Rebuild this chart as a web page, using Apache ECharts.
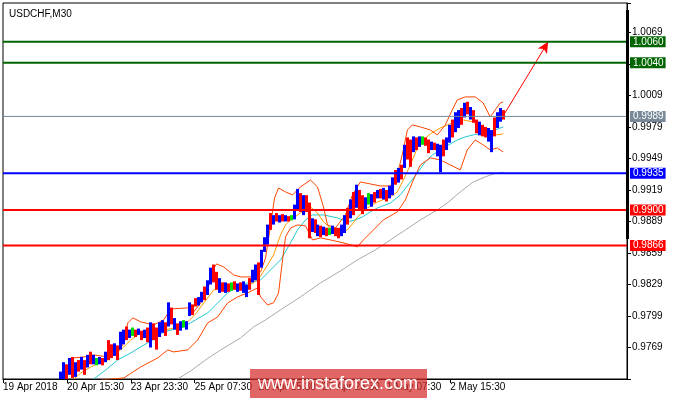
<!DOCTYPE html>
<html><head><meta charset="utf-8">
<script src="https://cdn.jsdelivr.net/npm/echarts@6/dist/echarts.min.js"></script>
<style>html,body{margin:0;padding:0;background:#fff}#c{width:675px;height:400px}</style>
</head><body><div id="c"></div>
<script>
// ---- DATA ----
const symbolTitle = 'USDCHF,M30';
const watermarkText = 'www.instaforex.com';
const timeLabels = ['19 Apr 2018','20 Apr 15:30','23 Apr 23:30','25 Apr 07:30','26 Apr 15:30','27 Apr 23:30','1 May 07:30','2 May 15:30'];
const labelEvery = 64;          // M30 bars between time labels
const slotCount = 626;          // M30 bar slots across the chart
const firstBarSlot = 57;        // slot of first drawn (aggregated) bar
const barSpan = 3;              // M30 bars merged in each drawn bar

const barOpen = [.9736,.9737,.9753,.9743,.9760,.9741,.9757,.9748,.9757,.9750,
.9765,.9753,.9755,.9753,.9759,.9755,.9776,.9772,.9761,.9771,
.9767,.9772,.9789,.9778,.9784,.9786,.9781,.9785,.9778,.9788,
.9769,.9792,.9788,.9779,.9783,.9793,.9789,.9807,.9786,.9792,
.9785,.9791,.9786,.9799,.9810,.9816,.9809,.9812,.9827,.9819,
.9829,.9848,.9841,.9821,.9831,.9821,.9830,.9827,.9832,.9822,
.9831,.9821,.9817,.9835,.9831,.9833,.9850,.9845,.9860,.9867,
.9897,.9886,.9897,.9888,.9896,.9889,.9894,.9892,.9891,.9900,
.9916,.9895,.9914,.9907,.9879,.9891,.9875,.9885,.9876,.9883,
.9880,.9877,.9883,.9883,.9875,.9878,.9902,.9892,.9917,.9902,
.9919,.9914,.9900,.9910,.9903,.9917,.9911,.9920,.9910,.9919,
.9911,.9914,.9938,.9926,.9943,.9940,.9969,.9967,.9955,.9969,
.9960,.9966,.9969,.9967,.9957,.9964,.9951,.9936,.9967,.9957,
.9964,.9986,.9974,.9978,.9997,.9988,1.0003,.9986,.9995,.9986,
.9971,.9981,.9979,.9965,.9955,.9988,.9978,.9984,.9995];
const barClose = [.9746,.9755,.9737,.9759,.9740,.9755,.9746,.9760,.9743,.9762,
.9753,.9762,.9755,.9760,.9752,.9765,.9757,.9759,.9773,.9757,
.9784,.9786,.9776,.9786,.9784,.9779,.9787,.9776,.9786,.9774,
.9793,.9776,.9767,.9793,.9795,.9780,.9812,.9791,.9797,.9781,
.9794,.9791,.9794,.9812,.9800,.9808,.9817,.9822,.9814,.9833,
.9845,.9831,.9824,.9835,.9822,.9831,.9822,.9827,.9824,.9830,
.9823,.9832,.9829,.9824,.9843,.9848,.9819,.9862,.9874,.9886,
.9881,.9895,.9889,.9895,.9889,.9895,.9889,.9892,.9905,.9920,
.9898,.9914,.9898,.9873,.9892,.9878,.9886,.9874,.9884,.9875,
.9880,.9885,.9875,.9873,.9886,.9895,.9886,.9910,.9895,.9924,
.9900,.9896,.9912,.9910,.9915,.9907,.9919,.9911,.9921,.9908,
.9923,.9931,.9924,.9940,.9929,.9962,.9948,.9941,.9970,.9957,
.9970,.9966,.9961,.9954,.9965,.9957,.9963,.9962,.9951,.9969,
.9981,.9969,.9993,.9995,.9981,1.0002,.9991,.9998,.9983,.9973,
.9984,.9970,.9969,.9978,.9976,.9970,.9993,.9997,.9986];
const barLow = [.9736,.9737,.9737,.9743,.9740,.9741,.9746,.9748,.9743,.9750,
.9753,.9753,.9752,.9753,.9752,.9755,.9757,.9759,.9761,.9757,
.9767,.9772,.9776,.9778,.9780,.9779,.9781,.9776,.9778,.9774,
.9769,.9776,.9767,.9779,.9783,.9780,.9789,.9791,.9786,.9781,
.9785,.9788,.9786,.9799,.9800,.9808,.9809,.9812,.9814,.9819,
.9829,.9831,.9824,.9821,.9822,.9821,.9822,.9823,.9824,.9822,
.9823,.9821,.9817,.9824,.9831,.9833,.9819,.9845,.9860,.9867,
.9881,.9886,.9889,.9888,.9889,.9889,.9889,.9890,.9891,.9900,
.9898,.9895,.9898,.9873,.9879,.9878,.9875,.9874,.9876,.9875,
.9876,.9877,.9875,.9873,.9875,.9878,.9886,.9892,.9895,.9902,
.9900,.9896,.9900,.9905,.9903,.9907,.9911,.9911,.9910,.9908,
.9911,.9914,.9924,.9926,.9929,.9940,.9948,.9941,.9955,.9957,
.9960,.9962,.9961,.9954,.9957,.9957,.9951,.9936,.9951,.9957,
.9964,.9969,.9974,.9978,.9981,.9988,.9991,.9986,.9983,.9973,
.9971,.9970,.9969,.9965,.9955,.9970,.9978,.9984,.9986];
const barHigh = [.9746,.9755,.9753,.9759,.9760,.9755,.9757,.9760,.9757,.9762,
.9765,.9762,.9759,.9760,.9759,.9765,.9776,.9772,.9773,.9771,
.9784,.9786,.9789,.9786,.9788,.9786,.9787,.9785,.9786,.9788,
.9793,.9792,.9788,.9793,.9795,.9793,.9812,.9807,.9797,.9792,
.9794,.9795,.9794,.9812,.9810,.9816,.9817,.9822,.9827,.9833,
.9845,.9848,.9841,.9835,.9831,.9831,.9830,.9831,.9832,.9830,
.9831,.9832,.9829,.9835,.9843,.9848,.9850,.9862,.9874,.9886,
.9897,.9895,.9897,.9895,.9896,.9895,.9894,.9895,.9905,.9920,
.9916,.9914,.9914,.9907,.9892,.9891,.9886,.9885,.9884,.9883,
.9883,.9885,.9883,.9883,.9886,.9895,.9902,.9910,.9917,.9924,
.9919,.9914,.9912,.9916,.9915,.9917,.9919,.9920,.9921,.9919,
.9923,.9931,.9938,.9940,.9943,.9962,.9969,.9967,.9970,.9969,
.9970,.9970,.9969,.9967,.9965,.9964,.9963,.9962,.9967,.9969,
.9981,.9986,.9993,.9995,.9997,1.0002,1.0003,.9998,.9995,.9986,
.9984,.9981,.9979,.9978,.9976,.9988,.9993,.9997,.9995];

// indicator lines: [slot, price]
const maSlow = [[175,.97391],[188,.97467],[203,.97572],[218,.97667],[238,.97781],[251,.97886],[263,.97953],[278,.98048],[298,.98172],[318,.98305],[338,.98419],[355,.98524],[373,.98619],[388,.98714],[403,.98809],[418,.98905],[435,.99000],[445,.99066],[458,.99171],[471,.99266],[483,.99314],[491,.99342],[501,.99361]];
const maMid = [[91,.97391],[103,.97477],[115,.97572],[128,.97638],[138,.97696],[150,.97762],[161,.97838],[173,.97867],[181,.97886],[193,.97953],[205,.98019],[215,.98114],[225,.98210],[235,.98267],[245,.98305],[258,.98333],[268,.98429],[278,.98524],[288,.98686],[295,.98809],[303,.98905],[310,.98952],[321,.98952],[335,.98924],[345,.98886],[353,.98905],[360,.98933],[368,.98981],[375,.99019],[388,.99066],[398,.99143],[408,.99266],[415,.99352],[423,.99457],[430,.99523],[438,.99571],[448,.99628],[455,.99666],[463,.99695],[471,.99714],[485,.99742],[493,.99761],[501,.99790]];
const maFast = [[71,.97391],[78,.97448],[88,.97505],[98,.97553],[105,.97572],[113,.97629],[121,.97696],[128,.97762],[138,.97829],[148,.97838],[158,.97848],[171,.97876],[185,.97934],[193,.98010],[198,.98076],[205,.98162],[211,.98238],[218,.98257],[225,.98267],[241,.98267],[251,.98305],[258,.98371],[265,.98476],[271,.98571],[278,.98762],[283,.98857],[288,.98905],[298,.98971],[308,.99028],[315,.98971],[321,.98886],[328,.98828],[335,.98790],[345,.98809],[350,.98866],[355,.98933],[365,.99019],[375,.99076],[388,.99124],[395,.99171],[401,.99285],[408,.99428],[415,.99590],[421,.99666],[428,.99723],[438,.99780],[445,.99809],[453,.99838],[461,.99857],[471,.99838],[478,.99790],[485,.99752],[493,.99714],[501,.99723]];
const bandUpper = [[62,.97458],[68,.97553],[71,.97591],[81,.97600],[91,.97619],[105,.97600],[115,.97648],[120,.97715],[125,.97924],[130,.97972],[138,.97934],[151,.97905],[161,.97953],[168,.98057],[185,.98067],[191,.98029],[198,.98114],[205,.98238],[210,.98429],[214,.98486],[221,.98457],[231,.98381],[238,.98362],[251,.98362],[258,.98409],[263,.98543],[268,.98857],[272,.99114],[276,.99209],[283,.99171],[290,.99143],[298,.99219],[308,.99285],[315,.99219],[321,.99028],[325,.98857],[333,.98828],[343,.98952],[350,.99143],[358,.99266],[368,.99247],[378,.99228],[388,.99228],[395,.99333],[401,.99571],[405,.99761],[410,.99809],[418,.99790],[428,.99761],[435,.99714],[443,.99809],[450,.99952],[455,1.00047],[463,1.00076],[473,1.00076],[481,1.00018],[488,.99885],[493,.99952],[498,1.00018],[501,1.00028]];
const bandLower = [[98,.97381],[121,.97400],[138,.97505],[155,.97591],[165,.97667],[171,.97648],[185,.97667],[195,.97762],[205,.97924],[215,.97981],[225,.98114],[235,.98172],[245,.98210],[255,.98257],[258,.98172],[265,.98095],[271,.98115],[276,.98210],[280,.98524],[283,.98743],[288,.98828],[295,.98857],[303,.98848],[310,.98714],[318,.98733],[328,.98714],[341,.98686],[348,.98667],[355,.98648],[361,.98714],[371,.98809],[381,.98905],[395,.98981],[403,.99095],[411,.99285],[418,.99428],[428,.99495],[438,.99476],[448,.99428],[458,.99381],[465,.99571],[473,.99666],[481,.99619],[488,.99571],[495,.99590],[501,.99552]];

const levelValues = [1.0060, 1.0040, 0.9989, 0.9935, 0.9900, 0.9866];
const arrowFrom = [500, 0.9988];
const arrowTo = [546, 1.0060];

const yMin = 0.9739, yMax = 1.0097, yStep = 0.0030;

// ---- STYLE ----
const levelColors = ['#006400','#006400','#778899','#0000FF','#FF0000','#FF0000'];
const levelWidths = [2,2,1,2,2,2];
const FONT = 'Liberation Sans';

const chart = echarts.init(document.getElementById('c'));
const slots = Array.from({length: slotCount}, (_, i) => String(i));
const lastSlot = slotCount - 1;
const showSlot = (i) => i % labelEvery === 0 && (i / labelEvery) < timeLabels.length;
const barData = barOpen.map((o, k) => [firstBarSlot + k * barSpan, o, barClose[k], barLow[k], barHigh[k]]);

function lineSeries(data, color) {
  return { type: 'line', data: data, symbol: 'none', smooth: false, animation: false, silent: true,
    lineStyle: { color: color, width: 1 }, z: 3 };
}

const levelSeries = levelValues.map((v, i) => ({
  type: 'line', data: [[0, v], [lastSlot, v]], symbol: 'none', silent: true, animation: false, z: 5,
  lineStyle: { color: levelColors[i], width: levelWidths[i] },
  endLabel: { show: true, formatter: v.toFixed(4), color: '#fff', backgroundColor: levelColors[i],
    padding: [1, 2, 0, 3], fontSize: 10, fontFamily: FONT, distance: 3 }
}));

chart.setOption({
  animation: false,
  backgroundColor: '#ffffff',
  grid: { left: 2, right: 48, top: 3, bottom: 21, show: true, borderColor: '#000', borderWidth: 1, backgroundColor: 'transparent' },
  title: { text: symbolTitle, left: 4, top: 4, textStyle: { fontSize: 10, fontWeight: 'normal', color: '#000', fontFamily: FONT } },
  xAxis: {
    type: 'category', data: slots, boundaryGap: false,
    axisLine: { show: true, lineStyle: { color: '#000', width: 1 } },
    axisTick: { show: true, interval: (i) => showSlot(i), length: 4, lineStyle: { color: '#000' } },
    axisLabel: { show: true, interval: (i) => showSlot(i), formatter: (v, i) => timeLabels[Math.round(i / labelEvery)] || '',
      align: 'left', margin: 3, fontSize: 10, color: '#000', fontFamily: FONT },
    splitLine: { show: false }
  },
  yAxis: {
    type: 'value', position: 'right', min: yMin, max: yMax, interval: yStep, scale: true,
    axisLine: { show: true, lineStyle: { color: '#000', width: 1 } },
    axisTick: { show: true, length: 4, lineStyle: { color: '#000' } },
    axisLabel: { margin: 5, fontSize: 10, color: '#000', fontFamily: FONT,
      formatter: (v) => (v < 0.975 || v > 1.008) ? '' : v.toFixed(4) },
    splitLine: { show: false }
  },
  graphic: [
    { type: 'rect', shape: { x: 626, y: 10, width: 3, height: 229 }, style: { fill: '#000' }, z: 50, zlevel: 1 },
    { type: 'rect', shape: { x: 250, y: 369, width: 177, height: 29 }, style: { fill: 'rgba(214,45,45,0.72)' }, z: 100, zlevel: 1 },
    { type: 'text', x: 338, y: 384, style: { text: watermarkText, fill: '#ffffff', fontSize: 18, fontFamily: FONT, align: 'center', verticalAlign: 'middle' }, z: 101, zlevel: 1 }
  ],
  series: [
    lineSeries(maSlow, '#A9A9A9'),
    lineSeries(maMid, '#20C8D0'),
    lineSeries(maFast, '#FF9A00'),
    lineSeries(bandUpper, '#FF4500'),
    lineSeries(bandLower, '#FF4500'),
    {
      type: 'custom', data: barData, clip: true, z: 4, animation: false, silent: true,
      encode: { x: 0, y: [1, 2, 3, 4] },
      renderItem: function (params, api) {
        const s = api.value(0);
        const hi = api.coord([s, api.value(4)]);
        const lo = api.coord([s, api.value(3)]);
        const o = api.value(1), c = api.value(2);
        const col = c > o ? '#0000FF' : (c < o ? '#FF0000' : '#00DD00');
        return { type: 'rect', shape: { x: Math.round(hi[0]) - 1, y: hi[1], width: 3, height: Math.max(1, lo[1] - hi[1]) }, style: { fill: col } };
      }
    },
    ...levelSeries,
    {
      type: 'line', data: [], silent: true, z: 6,
      markLine: {
        silent: true, animation: false, symbol: ['none', 'arrow'], symbolSize: [8, 11],
        lineStyle: { color: '#FF0000', width: 1, type: 'solid' }, label: { show: false },
        data: [[{ coord: arrowFrom }, { coord: arrowTo }]]
      }
    }
  ]
});
</script>
</body></html>
